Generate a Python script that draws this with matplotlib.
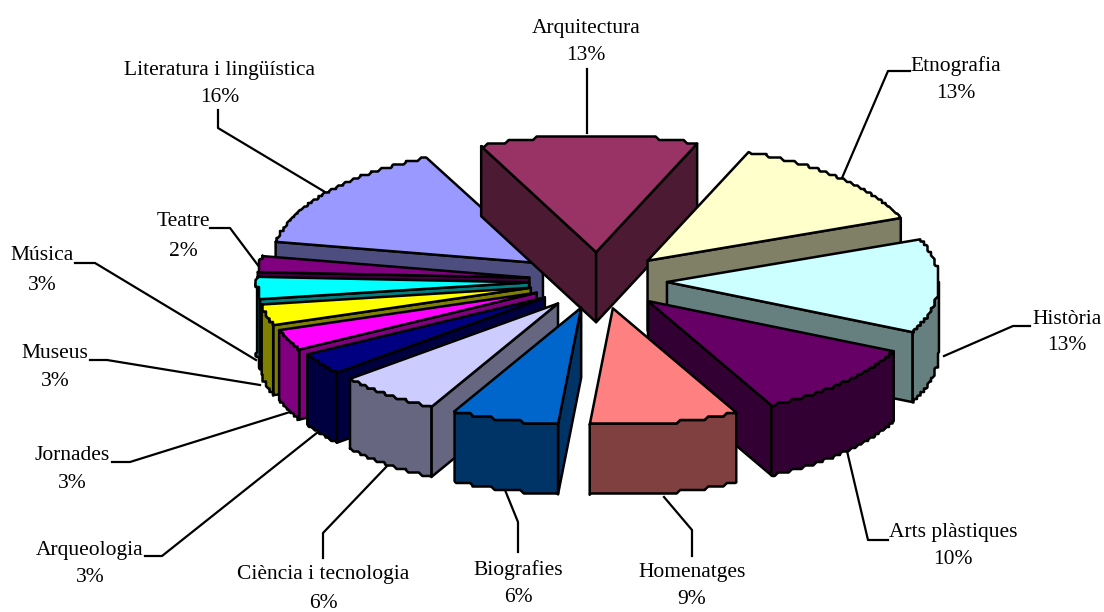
import numpy as np
import matplotlib
matplotlib.use("Agg")
import matplotlib.pyplot as plt
from matplotlib.patches import Polygon

categories = ["Arquitectura", "Etnografia", "Història", "Arts plàstiques", "Homenatges",
              "Biografies", "Ciència i tecnologia", "Arqueologia", "Jornades", "Museus",
              "Música", "Teatre", "Literatura i lingüística"]
# shares, the printed labels are the rounded ones
values = [13, 13, 13, 10.45, 8.85, 6.35, 6.15, 3.05, 2.9, 2.9, 3.05, 2.2, 15.0]
percent_labels = [13, 13, 13, 10, 9, 6, 6, 3, 3, 3, 3, 2, 16]
top_colors = ["#993366", "#FFFFCC", "#CCFFFF", "#660066", "#FF8080", "#0066CC", "#CCCCFF",
              "#000080", "#FF00FF", "#FFFF00", "#00FFFF", "#800080", "#9999FF"]
side_colors = ["#4D1A33", "#808066", "#668080", "#330033", "#804040", "#003366", "#666680",
               "#000040", "#800080", "#808000", "#008080", "#400040", "#4D4D80"]

# back to front
draw_order = [12, 11, 10, 9, 8, 7, 6, 0, 1, 2, 3, 4, 5]

label_x = [586, 956, 1067, 953, 692, 518, 323, 90, 72, 55, 42, 183, 220]
label_y = [29, 66, 319, 533, 573, 570, 575, 550, 456, 354, 256, 221, 71]
pct_y = [56, 94, 346, 560, 599, 597, 604, 578, 484, 381, 285, 251, 98]

leaders = [
    [(587, 69), (587, 133)],
    [(910, 71), (888, 71), (842, 178)],
    [(1030, 326), (1013, 326), (944, 356)],
    [(888, 540), (868, 540), (847, 451)],
    [(692, 556), (692, 530), (664, 497)],
    [(518, 552), (518, 522), (505, 490)],
    [(323, 558), (323, 533), (388, 465)],
    [(145, 556), (162, 556), (318, 432)],
    [(112, 462), (130, 462), (290, 412)],
    [(90, 360), (107, 360), (260, 385)],
    [(75, 263), (95, 263), (256, 360)],
    [(210, 228), (230, 228), (260, 268)],
    [(218, 110), (218, 128), (325, 192)],
]

cx, cy = 600, 281
rx, ratio = 272, 0.43
explode = 67
depth = 70
start = -25
grid = 3.5
# small per-slice corrections, the original has a bit of perspective
x_nudge = [-2, 0, 0, 0, 0, 0, 0, 0, -2, -4, -4, -4, -4]
y_nudge = [0, 0, 0, 0, -1, -1, 0, 0, 0, 0, 0, 0, 0]


def project(angle, radius_x, ox, oy):
    a = np.radians(angle)
    return ox + radius_x * np.sin(a), oy - radius_x * ratio * np.cos(a)


def jagged_arc(a0, a1, ox, oy):
    # the original arcs are stepped, so snap to a coarse grid and soften the corners
    angles = np.linspace(a0, a1, max(int(abs(a1 - a0) * 4), 4))
    x, y = project(angles, rx, ox, oy)
    x_s = np.round(x / grid) * grid
    y_s = np.round(y / grid) * grid
    kernel = np.ones(3) / 3
    x_s = np.convolve(np.pad(x_s, 1, mode="edge"), kernel, mode="valid")
    y_s = np.convolve(np.pad(y_s, 1, mode="edge"), kernel, mode="valid")
    x_s[0], y_s[0], x_s[-1], y_s[-1] = x[0], y[0], x[-1], y[-1]
    return list(zip(x_s, y_s))


def draw_slice(ax, a0, a1, top, side, dx, dy):
    mid = (a0 + a1) / 2
    ox, oy = project(mid, explode, cx + dx, cy + dy)
    arc = jagged_arc(a0, a1, ox, oy)
    style = dict(edgecolor="black", linewidth=1.8, joinstyle="round", zorder=3)

    # walls that face the viewer, radial cuts first
    faces = []
    if arc[0][0] < ox:
        faces.append([(ox, oy), arc[0]])
    if arc[-1][0] > ox:
        faces.append([(ox, oy), arc[-1]])
    for face in faces:
        quad = face + [(x, y + depth) for x, y in reversed(face)]
        ax.add_patch(Polygon(quad, facecolor=side, **style))

    w0, w1 = max(a0, 90), min(a1, 270)
    if w0 < w1:
        wall = jagged_arc(w0, w1, ox, oy)
        quad = wall + [(x, y + depth) for x, y in reversed(wall)]
        ax.add_patch(Polygon(quad, facecolor=side, **style))

    ax.add_patch(Polygon([(ox, oy)] + arc, facecolor=top, **style))


fig = plt.figure(figsize=(11.04, 6.12), dpi=100)
ax = fig.add_axes([0, 0, 1, 1])
ax.set_xlim(0, 1104)
ax.set_ylim(612, 0)
ax.axis("off")

for line in leaders:
    xs, ys = zip(*line)
    ax.plot(xs, ys, color="black", linewidth=1.6, zorder=1)

edges = start + np.concatenate([[0], np.cumsum(values)]) * 3.6
for i in draw_order:
    draw_slice(ax, edges[i], edges[i + 1], top_colors[i], side_colors[i], x_nudge[i], y_nudge[i])

for i, name in enumerate(categories):
    ax.text(label_x[i], label_y[i], name, ha="center", va="center",
            family="Liberation Serif", fontsize=15.5, color="black", zorder=5)
    ax.text(label_x[i], pct_y[i], f"{percent_labels[i]}%", ha="center", va="center",
            family="Liberation Serif", fontsize=15.5, color="black", zorder=5)

fig.savefig("out.png", dpi=100)
plt.close(fig)
